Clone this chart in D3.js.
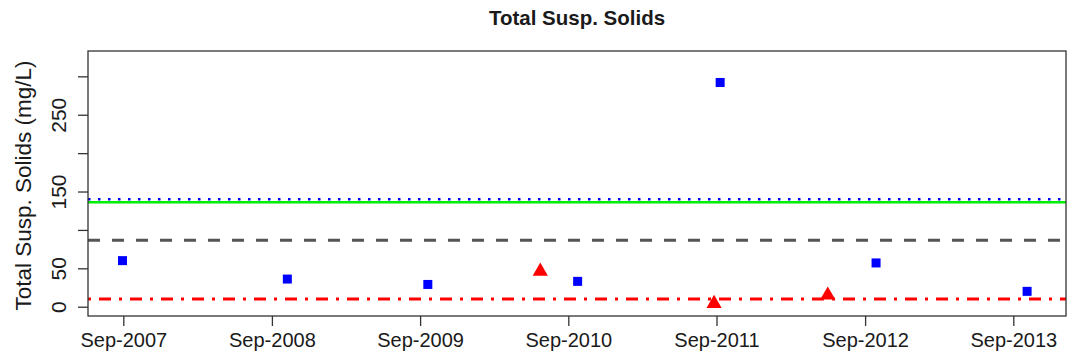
<!DOCTYPE html>
<html>
<head>
<meta charset="utf-8">
<script src="https://cdn.jsdelivr.net/npm/d3@7"></script>
<style>
  html, body { margin: 0; padding: 0; background: #fff; }
  svg { display: block; }
  text { font-family: "Liberation Sans", Arial, sans-serif; fill: #1a1a1a; }
</style>
</head>
<body>
<svg id="chart" width="1067" height="358"></svg>
<script>
// Sample results (mg/L)
const sampleDates = ["2007-08-30", "2008-10-09", "2009-09-20", "2010-09-24", "2011-09-10", "2012-09-28", "2013-10-05"];
const sampleValues = [60, 36, 29, 33, 292, 57, 20];

const flaggedDates = ["2010-06-24", "2011-08-26", "2012-06-01"];
const flaggedValues = [46, 4, 15];

// Reference levels (mg/L)
const refDotted = 140;
const refSolid = 136;
const refDashed = 86.5;
const refDotDash = 10;

const yTicks = [0, 50, 100, 150, 200, 250, 300];
const yTickLabels = ["0", "50", "", "150", "", "250", ""];
const xTickDates = ["2007-09-01", "2008-09-01", "2009-09-01", "2010-09-01", "2011-09-01", "2012-09-01", "2013-09-01"];
const xTickLabels = ["Sep-2007", "Sep-2008", "Sep-2009", "Sep-2010", "Sep-2011", "Sep-2012", "Sep-2013"];

const parse = d3.utcParse("%Y-%m-%d");

const box = { left: 88, right: 1066, top: 51, bottom: 316 };

const x = d3.scaleUtc()
  .domain([parse("2007-09-01"), parse("2013-09-01")])
  .range([123.3, 1013.3]);

const y = d3.scaleLinear()
  .domain([-12.1, 333])
  .range([box.bottom, box.top]);

const svg = d3.select("#chart");

// Title
svg.append("text")
  .attr("x", (box.left + box.right) / 2)
  .attr("y", 25)
  .attr("text-anchor", "middle")
  .style("font-weight", "bold")
  .style("font-size", "20.5px")
  .text("Total Susp. Solids");

// Reference lines
const hline = (v, color, width, dash) => {
  svg.append("line")
    .attr("x1", box.left).attr("x2", box.right)
    .attr("y1", y(v)).attr("y2", y(v))
    .attr("stroke", color)
    .attr("stroke-width", width)
    .attr("stroke-dasharray", dash);
};
hline(refDashed, "#555555", 3, "12,12");
hline(refDotDash, "#ff0000", 3, "3,8,12,8");
hline(refSolid, "#00ee00", 2.5, null);
hline(refDotted, "#0000ff", 2.5, "2.5,7.5");

// Sample points
svg.append("g").selectAll("rect")
  .data(sampleDates.map((d, i) => ({ date: parse(d), value: sampleValues[i] })))
  .join("rect")
  .attr("x", d => x(d.date) - 4.5)
  .attr("y", d => y(d.value) - 4.5)
  .attr("width", 9)
  .attr("height", 9)
  .attr("fill", "#0000ff");

const tri = d3.symbol().type(d3.symbolTriangle).size(100);
svg.append("g").selectAll("path")
  .data(flaggedDates.map((d, i) => ({ date: parse(d), value: flaggedValues[i] })))
  .join("path")
  .attr("transform", d => `translate(${x(d.date)},${y(d.value)})`)
  .attr("d", tri)
  .attr("fill", "#ff0000");

// Plot frame
svg.append("rect")
  .attr("x", box.left).attr("y", box.top)
  .attr("width", box.right - box.left)
  .attr("height", box.bottom - box.top)
  .attr("fill", "none")
  .attr("stroke", "#333")
  .attr("stroke-width", 1.3);

// X axis
const xAxis = d3.axisBottom(x)
  .tickValues(xTickDates.map(parse))
  .tickFormat((d, i) => xTickLabels[i])
  .tickSize(10)
  .tickSizeOuter(0);
const gx = svg.append("g")
  .attr("transform", `translate(0,${box.bottom})`)
  .call(xAxis);
gx.select(".domain").remove();
gx.selectAll(".tick line").attr("stroke", "#333").attr("stroke-width", 1.3);
gx.selectAll(".tick text")
  .attr("y", 17)
  .attr("dy", "0.71em")
  .style("font-size", "20px")
  .style("font-family", "'Liberation Sans', Arial, sans-serif")
  .attr("fill", "#1a1a1a");

// Y axis
const yAxis = d3.axisLeft(y)
  .tickValues(yTicks)
  .tickFormat((d, i) => yTickLabels[i])
  .tickSize(10)
  .tickSizeOuter(0);
const gy = svg.append("g")
  .attr("transform", `translate(${box.left},0)`)
  .call(yAxis);
gy.select(".domain").remove();
gy.selectAll(".tick line").attr("stroke", "#333").attr("stroke-width", 1.3);
gy.selectAll(".tick text")
  .attr("x", null).attr("dy", null)
  .attr("text-anchor", "middle")
  .attr("transform", "translate(-22,0) rotate(-90)")
  .attr("y", 0)
  .attr("dy", "0.0em")
  .style("font-size", "21px")
  .style("font-family", "'Liberation Sans', Arial, sans-serif")
  .attr("fill", "#1a1a1a");

// Y axis title
svg.append("text")
  .attr("transform", `translate(31,${(box.top + box.bottom) / 2 + 2}) rotate(-90)`)
  .attr("text-anchor", "middle")
  .style("font-size", "22.5px")
  .text("Total Susp. Solids (mg/L)");
</script>
</body>
</html>
